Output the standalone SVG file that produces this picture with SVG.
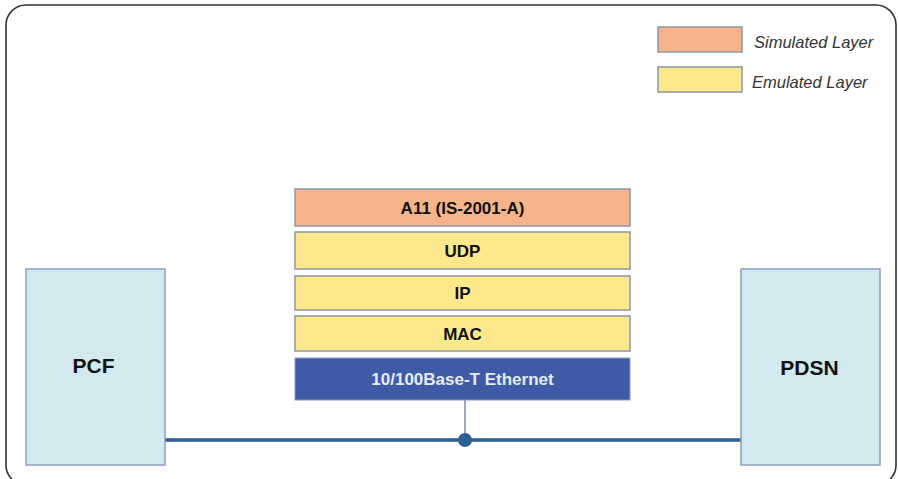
<svg xmlns="http://www.w3.org/2000/svg" width="898" height="479" viewBox="0 0 898 479">
  <style>
    .frame { fill: #ffffff; stroke: #333333; stroke-width: 1.6; }
    .node { fill: #d2e9ef; stroke: #8b9fbe; stroke-width: 1.5; }
    .sim { fill: #f7b48a; stroke: #8c97a8; stroke-width: 1.5; }
    .emu { fill: #fde98c; stroke: #8c97a8; stroke-width: 1.5; }
    .phy { fill: #3f5ba6; stroke: #8c9bc4; stroke-width: 1; }
    .lbl { font-family: "Liberation Sans", Arial, sans-serif; font-weight: bold; text-anchor: middle; fill: #111111; }
    .layer { font-size: 17px; }
    .big { font-size: 21px; }
    .light { fill: #e6ebf5; }
    .legend { font-family: "Liberation Sans", Arial, sans-serif; font-style: italic; font-size: 16.5px; fill: #333333; }
    .bus { stroke: #2a5f8f; stroke-width: 3.5; fill: none; }
    .drop { stroke: #7d8ea8; stroke-width: 1.5; fill: none; }
  </style>

  <rect class="frame" x="6" y="5" width="890" height="480" rx="20" ry="20"/>

  <!-- legend -->
  <g id="legend">
    <rect class="sim" x="658" y="27" width="84" height="25"/>
    <text class="legend" x="754" y="48">Simulated Layer</text>
    <rect class="emu" x="658" y="67" width="84" height="25"/>
    <text class="legend" x="752" y="88">Emulated Layer</text>
  </g>

  <!-- connectors -->
  <g id="connectors">
    <line class="drop" x1="465" y1="400" x2="465" y2="440"/>
    <line class="bus" x1="165" y1="440" x2="741" y2="440"/>
    <circle cx="465" cy="440" r="7" fill="#2a5f8f"/>
  </g>

  <!-- protocol stack -->
  <g id="a11">
    <rect class="sim" x="295" y="189" width="335" height="37"/>
    <text class="lbl layer" x="462.5" y="214">A11 (IS-2001-A)</text>
  </g>
  <g id="udp">
    <rect class="emu" x="295" y="232" width="335" height="37"/>
    <text class="lbl layer" x="462.5" y="257">UDP</text>
  </g>
  <g id="ip">
    <rect class="emu" x="295" y="276" width="335" height="34"/>
    <text class="lbl layer" x="462.5" y="299">IP</text>
  </g>
  <g id="mac">
    <rect class="emu" x="295" y="316" width="335" height="35"/>
    <text class="lbl layer" x="462.5" y="340">MAC</text>
  </g>
  <g id="ethernet">
    <rect class="phy" x="295" y="358" width="335" height="42"/>
    <text class="lbl layer light" x="462.5" y="385">10/100Base-T Ethernet</text>
  </g>

  <!-- end nodes -->
  <g id="pcf">
    <rect class="node" x="26" y="269" width="139" height="196"/>
    <text class="lbl big" x="93.5" y="373">PCF</text>
  </g>
  <g id="pdsn">
    <rect class="node" x="741" y="269" width="139" height="196"/>
    <text class="lbl big" x="809.5" y="375">PDSN</text>
  </g>
</svg>
